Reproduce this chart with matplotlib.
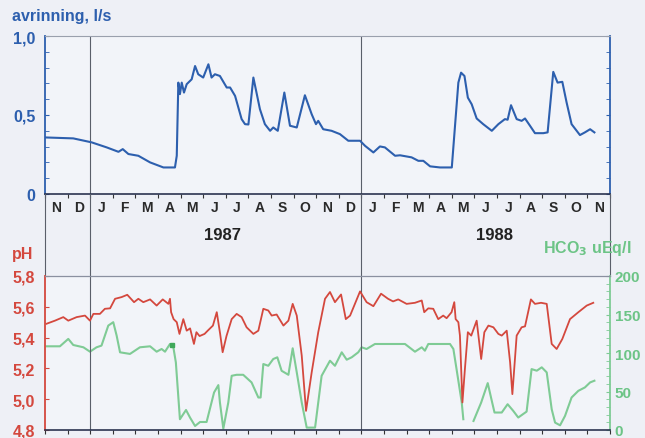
import numpy as np
import matplotlib
matplotlib.use("Agg")
import matplotlib.pyplot as plt

plt.rcParams['font.family'] = ['Liberation Sans', 'DejaVu Sans']
plt.rcParams['font.weight'] = 'bold'
plt.rcParams['mathtext.default'] = 'bf'

# months counted from 1 Nov 1986
month_labels = ['N', 'D', 'J', 'F', 'M', 'A', 'M', 'J', 'J', 'A', 'S', 'O',
                'N', 'D', 'J', 'F', 'M', 'A', 'M', 'J', 'J', 'A', 'S', 'O', 'N']
year_labels = ['1987', '1988']
year_pos = [7.85, 19.9]
jan_pos = [2, 14]

# runoff, l/s
q_m = [0.0, 1.25, 2.06, 2.73, 3.25, 3.44, 3.69, 4.13, 4.65, 5.24,
       5.75, 5.83, 5.90, 5.97, 6.05, 6.15, 6.27, 6.49, 6.64, 6.78,
       7.0, 7.23, 7.37, 7.52, 7.74, 8.04, 8.19, 8.41, 8.70, 8.85,
       9.0, 9.22, 9.51, 9.73, 9.96, 10.1, 10.3, 10.59, 10.84, 11.14,
       11.5, 11.8, 11.99, 12.09, 12.31, 12.68, 13.05, 13.42, 13.94, 14.16,
       14.53, 14.82, 15.04, 15.49, 15.71, 16.22, 16.52, 16.74, 17.04, 17.48,
       18.0, 18.29, 18.41, 18.56, 18.71, 18.88, 19.1, 19.39, 19.77, 20.06,
       20.35, 20.47, 20.62, 20.87, 21.09, 21.24, 21.46, 21.68, 22.05, 22.24,
       22.49, 22.68, 22.89, 23.08, 23.3, 23.67, 23.89, 24.12, 24.31]
q_v = [0.358, 0.352, 0.327, 0.295, 0.267, 0.284, 0.253, 0.242, 0.200, 0.168,
       0.168, 0.242, 0.705, 0.632, 0.705, 0.642, 0.695, 0.726, 0.81, 0.758,
       0.737, 0.821, 0.737, 0.758, 0.747, 0.674, 0.674, 0.621, 0.474, 0.442,
       0.44, 0.737, 0.537, 0.442, 0.40, 0.421, 0.40, 0.642, 0.432, 0.421,
       0.625, 0.505, 0.442, 0.463, 0.41, 0.40, 0.379, 0.337, 0.337, 0.305,
       0.263, 0.301, 0.295, 0.242, 0.245, 0.232, 0.21, 0.21, 0.175, 0.168,
       0.168, 0.705, 0.768, 0.747, 0.61, 0.568, 0.478, 0.442, 0.40, 0.442,
       0.474, 0.47, 0.562, 0.474, 0.463, 0.478, 0.432, 0.385, 0.385, 0.39,
       0.773, 0.705, 0.71, 0.579, 0.442, 0.373, 0.39, 0.41, 0.39]

# pH
ph_m = [0.07, 0.44, 0.81, 1.03, 1.4, 1.77, 1.99, 2.14, 2.43, 2.65,
        2.88, 3.1, 3.39, 3.64, 3.94, 4.13, 4.35, 4.65, 4.94, 5.21,
        5.46, 5.53, 5.58, 5.69, 5.83, 5.95, 6.12, 6.27, 6.42, 6.59,
        6.7, 6.84, 7.06, 7.2, 7.43, 7.6, 7.75, 7.86, 8.03, 8.26,
        8.48, 8.7, 8.92, 9.22, 9.44, 9.66, 9.88, 10.03, 10.25, 10.55,
        10.77, 10.96, 11.14, 11.36, 11.55, 11.8, 12.09, 12.39, 12.61, 12.83,
        13.1, 13.31, 13.5, 13.94, 14.23, 14.53, 14.87, 15.18, 15.4, 15.63,
        16.0, 16.37, 16.67, 16.78, 16.96, 17.18, 17.4, 17.62, 17.77, 17.99,
        18.11, 18.17, 18.29, 18.36, 18.47, 18.58, 18.71, 18.86, 19.1, 19.3,
        19.44, 19.62, 19.84, 20.06, 20.21, 20.43, 20.58, 20.68, 20.87, 21.09,
        21.24, 21.5, 21.68, 21.95, 22.2, 22.42, 22.64, 22.89, 23.23, 23.6,
        23.97, 24.26]
ph_v = [5.49, 5.51, 5.533, 5.51, 5.533, 5.543, 5.51, 5.554, 5.554, 5.587,
        5.59, 5.652, 5.663, 5.678, 5.63, 5.652, 5.63, 5.648, 5.608, 5.648,
        5.619, 5.652, 5.565, 5.52, 5.5, 5.424, 5.52, 5.445, 5.46, 5.359,
        5.435, 5.41, 5.424, 5.445, 5.478, 5.565, 5.424, 5.305, 5.41, 5.52,
        5.554, 5.533, 5.467, 5.424, 5.445, 5.587, 5.576, 5.543, 5.55, 5.478,
        5.51, 5.619, 5.543, 5.283, 4.924, 5.174, 5.435, 5.652, 5.696, 5.63,
        5.68, 5.52, 5.543, 5.70, 5.63, 5.604, 5.685, 5.652, 5.635, 5.648,
        5.619, 5.626, 5.641, 5.565, 5.59, 5.587, 5.52, 5.543, 5.526, 5.565,
        5.63, 5.52, 5.5, 5.413, 4.979, 5.196, 5.435, 5.413, 5.51, 5.261,
        5.435, 5.478, 5.467, 5.424, 5.413, 5.445, 5.239, 5.033, 5.413, 5.467,
        5.473, 5.648, 5.619, 5.626, 5.619, 5.359, 5.326, 5.391, 5.52, 5.565,
        5.608, 5.626]

# HCO3, uEq/l
hco_m = [0.07, 0.66, 1.03, 1.25, 1.7, 1.99, 2.28, 2.5, 2.8, 3.02,
         3.17, 3.32, 3.76, 4.2, 4.65, 4.94, 5.16, 5.31, 5.53, 5.68,
         5.79, 5.97, 6.24, 6.42, 6.64, 6.86, 7.15, 7.48, 7.67, 7.74,
         7.89, 8.11, 8.26, 8.48, 8.77, 9.14, 9.44, 9.54, 9.66, 9.88,
         10.1, 10.28, 10.47, 10.77, 10.96, 11.14, 11.36, 11.58, 11.95, 12.24,
         12.61, 12.83, 13.13, 13.35, 13.57, 13.86, 14.01, 14.23, 14.6, 15.93,
         16.37, 16.67, 16.81, 16.96, 17.92, 18.07, 18.21, 18.44, 18.51, 18.7,
         18.96, 19.3, 19.59, 19.77, 19.89, 20.21, 20.47, 20.72, 20.94, 21.31,
         21.53, 21.76, 21.98, 22.2, 22.42, 22.57, 22.79, 23.01, 23.3, 23.6,
         23.89, 24.12, 24.31]
hco_v = [108.7, 108.7, 118.3, 110.4, 107.4, 101.7, 107.4, 109.6, 135.6, 140,
         122.6, 100.9, 98.8, 107.4, 108.7, 101.7, 105.2, 101.7, 111.7, 107.4,
         87.8, 14, 26, 16, 5.2, 10.4, 10.4, 48.7, 58.3, 35.7,
         1.8, 35.7, 70.4, 71.7, 71.7, 61.8, 42.2, 42.2, 85.7, 83.4,
         92.2, 94.4, 76.9, 71.7, 106.1, 74.8, 35.7, 3.1, 3.1, 70.4,
         90, 83.4, 100.9, 91.3, 94.4, 100.9, 107.4, 105.2, 111.7, 111.7,
         101.7, 107.4, 103, 111.7, 111.7, 105.2, 79.1, 35.7, 14, np.nan,
         11.7, 35.7, 60.9, 37.8, 22.7, 22.7, 33.5, 24.8, 16.2, 23.9,
         79.1, 77, 81.4, 74.8, 27, 9.6, 6.1, 18.3, 42.2, 50.9,
         55.3, 61.8, 64]
hco_mark_m = [5.6]
hco_mark_v = [110]

bg = '#eef0f6'
blue = '#2d5fae'
red = '#d4483e'
green = '#7fcb95'
txt_green = '#6cc486'
grid_c = '#5a5f6a'
W, H = 645, 439

fig = plt.figure(figsize=(6.45, 4.39), dpi=100, facecolor=bg)
ax1 = fig.add_axes([45/W, 1-195/H, 565/W, 158/H], facecolor='#f2f4f9')
axm = fig.add_axes([45/W, 1-277/H, 565/W, 82/H], facecolor='none')
ax2 = fig.add_axes([45/W, 1-431/H, 565/W, 154/H], facecolor='#f2f4f9')
ax3 = ax2.twinx()

# top panel: runoff
ax1.plot(q_m, q_v, color=blue, lw=1.5, zorder=3)
ax1.set_xlim(0, 25)
ax1.set_ylim(0, 1)
ax1.set_yticks([0, 0.5, 1.0])
ax1.set_yticklabels(['0', '0,5', '1,0'], color=blue, fontsize=11.5)
ax1.set_yticks(np.arange(0, 1.01, 0.1), minor=True)
ax1.tick_params(axis='y', which='both', direction='in', length=3, color=blue,
                right=True, labelright=False, pad=7)
ax1.set_xticks(np.arange(0, 26))
ax1.set_xticklabels([])
ax1.set_xticks(np.arange(25) + 0.5, minor=True)
ax1.set_xticklabels(month_labels, minor=True, fontsize=10, color='#2a2a2a')
ax1.tick_params(axis='x', which='major', direction='out', length=3, color='#333333')
ax1.tick_params(axis='x', which='minor', length=0, pad=4)
for s in ['left', 'right']:
    ax1.spines[s].set_color(blue)
    ax1.spines[s].set_linewidth(1.3)
ax1.spines['bottom'].set_color('#2b3350')
ax1.spines['bottom'].set_linewidth(1.2)
ax1.spines['top'].set_color('#9aa0ad')
ax1.spines['top'].set_linewidth(0.8)

# middle strip between panels
axm.set_xlim(0, 25)
axm.set_ylim(0, 1)
axm.set_xticks([])
axm.set_yticks([])
for s in ['top', 'bottom']:
    axm.spines[s].set_visible(False)
for s in ['left', 'right']:
    axm.spines[s].set_color(grid_c)
    axm.spines[s].set_linewidth(0.8)
for yl, yp in zip(year_labels, year_pos):
    axm.text(yp, 0.5, yl, ha='center', va='center', fontsize=12, color='#222222')

# bottom panel: pH and HCO3
ax3.plot(hco_m, hco_v, color=green, lw=1.5, zorder=2)
ax3.plot(hco_mark_m, hco_mark_v, 's', color='#3fa85a', ms=3.5)
ax2.plot(ph_m, ph_v, color=red, lw=1.3, zorder=3)
ax2.set_zorder(ax3.get_zorder() + 1)
ax2.patch.set_visible(False)
ax3.patch.set_visible(True)
ax3.patch.set_facecolor('#f2f4f9')

ax2.set_xlim(0, 25)
ax2.set_ylim(4.8, 5.8)
ph_ticks = [4.8, 5.0, 5.2, 5.4, 5.6, 5.8]
ax2.set_yticks(ph_ticks)
ax2.set_yticklabels([f'{t:.1f}'.replace('.', ',') for t in ph_ticks],
                    color=red, fontsize=11.5)
ax2.tick_params(axis='y', direction='in', length=3, color=red, pad=7)
ax2.set_xticks(np.arange(0, 26))
ax2.set_xticklabels([])
ax2.tick_params(axis='x', direction='out', length=3, color='#333333')
ax2.spines['left'].set_color(red)
ax2.spines['left'].set_linewidth(1.3)
ax2.spines['bottom'].set_color('#2b3350')
ax2.spines['bottom'].set_linewidth(1.2)
ax2.spines['top'].set_color('#8a90a0')
ax2.spines['top'].set_linewidth(0.9)
ax2.spines['right'].set_visible(False)

ax3.set_ylim(0, 200)
ax3.set_yticks([0, 50, 100, 150, 200])
ax3.set_yticklabels(['0', '50', '100', '150', '200'], color=txt_green, fontsize=11)
ax3.set_yticks(np.arange(0, 201, 10), minor=True)
ax3.tick_params(axis='y', which='both', direction='in', length=3, color=green, pad=3.5)
for s in ['left', 'top', 'bottom']:
    ax3.spines[s].set_visible(False)
ax3.spines['right'].set_color(green)
ax3.spines['right'].set_linewidth(1.3)

# January separators through all three parts
for ax in [ax1, axm, ax2]:
    for j in jan_pos:
        ax.axvline(j, color=grid_c, lw=0.8, zorder=1)

fig.text(12/W, 1-17/H, 'avrinning, l/s', color=blue, fontsize=11.5, va='center')
fig.text(12/W, 1-255/H, 'pH', color=red, fontsize=11.5, va='center')
fig.text(543/W, 1-249/H, 'HCO$_3$ uEq/l', color=txt_green, fontsize=11.5, va='center')

fig.savefig('out.png', dpi=100, facecolor=bg)
